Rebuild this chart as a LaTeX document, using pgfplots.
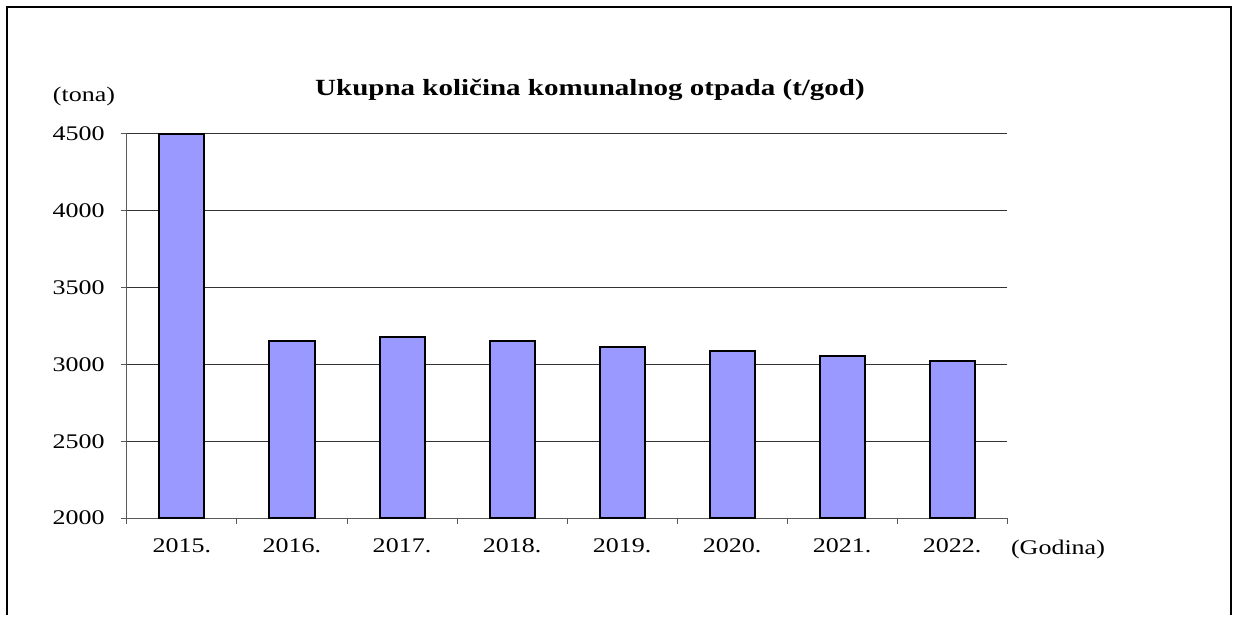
\documentclass[border=0pt]{standalone}
\usepackage{pgfplots}
\pgfplotsset{compat=1.18}
\usepackage{fontspec}
\setmainfont{Liberation Serif}[FakeStretch=1.25]
\definecolor{barblue}{HTML}{9999FF}
\begin{document}
\begin{tikzpicture}
\begin{axis}[
  scale only axis, width=440pt, height=192pt,
  xmin=-0.5, xmax=7.5, ymin=2000, ymax=4500,
  ytick={2000,2500,...,4500},
  xtick={0,...,7},
  xticklabels={2015.,2016.,2017.,2018.,2019.,2020.,2021.,2022.},
  minor xtick={-0.5,0.5,...,7.5},
  major x tick style={draw=none},
  minor tick length=3.2pt,
  major tick length=3.2pt,
  tick align=outside,
  xtick pos=bottom, ytick pos=left,
  axis x line*=bottom, axis y line*=left,
  axis line style={gray!70!black, line width=0.5pt},
  tick style={gray!70!black, line width=0.5pt},
  ymajorgrids, grid style={black!80, line width=0.5pt},
  tick label style={font=\fontsize{10.4}{12}\selectfont},
  /pgf/number format/assume math mode=true,
  /pgf/number format/1000 sep={},
  xticklabel style={yshift=-3.5pt},
  yticklabel style={xshift=-4.5pt},
  clip=false,
]
\addplot[ybar, bar width=22.5pt, fill=barblue, draw=black, line width=1pt]
coordinates {(0,4500) (1,3150) (2,3180) (3,3150) (4,3115) (5,3085) (6,3055) (7,3020)};
% page extent and frame, in axis-relative coordinates
\path (rel axis cs:-0.14432,-0.25260) rectangle (rel axis cs:1.26364,1.34896);
\draw[line width=1.2pt] (rel axis cs:-0.13636,-0.25260) -- (rel axis cs:-0.13636,1.33073)
  -- (rel axis cs:1.25455,1.33073) -- (rel axis cs:1.25455,-0.25260);
\node[font=\fontsize{11.6}{13}\selectfont\bfseries] at (rel axis cs:0.52614,1.11458) {Ukupna količina komunalnog otpada (t/god)};
\node[font=\fontsize{10.4}{12}\selectfont] at (rel axis cs:-0.04886,1.09635) {(tona)};
\node[font=\fontsize{10.4}{12}\selectfont] at (rel axis cs:1.05795,-0.08073) {(Godina)};
\end{axis}
\end{tikzpicture}
\end{document}
